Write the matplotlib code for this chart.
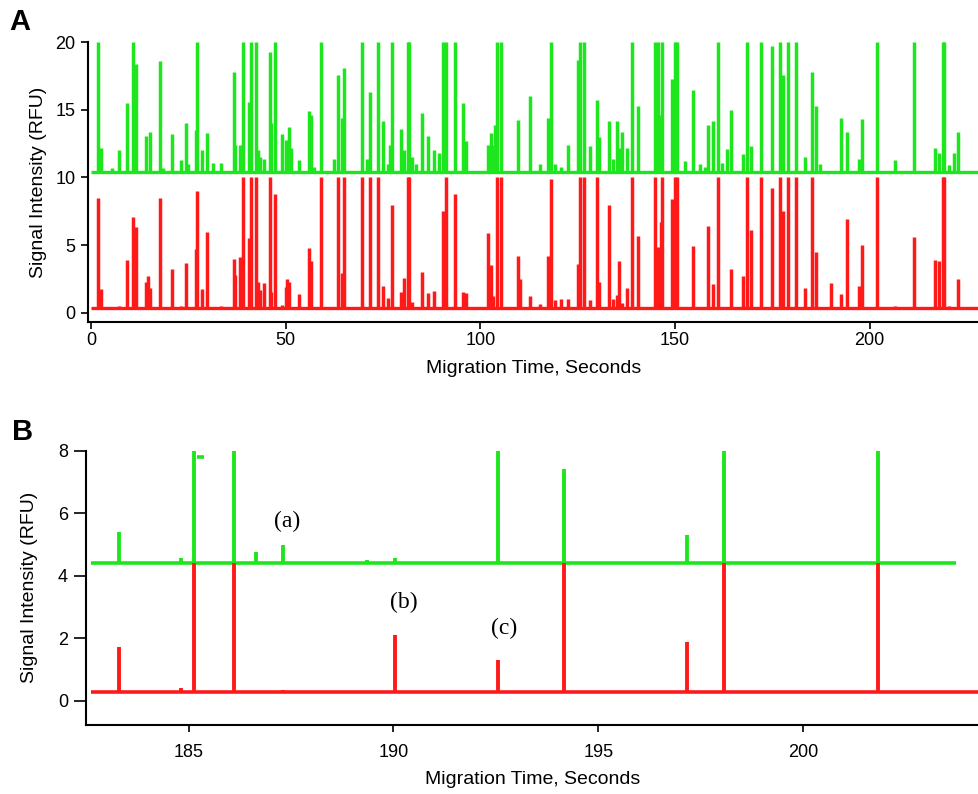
import matplotlib
matplotlib.use("Agg")
import matplotlib.pyplot as plt

plt.rcParams['font.family'] = ['Liberation Sans', 'DejaVu Sans']

GREEN = '#1ee61e'
RED = '#ff1a1a'

# ---- Panel A: full run (peak position in s, peak top in RFU) ----
green_base_a = 10.4
red_base_a = 0.35
trace_end_a = 228.0

green_peaks_x = [1.9, 2.5, 5.3, 7.3, 9.2, 10.9, 11.6, 14.1, 15.2, 17.6, 18.4, 20.7, 23.0, 24.3, 24.8,
                 27.0, 27.3, 28.4, 29.8, 31.3, 33.4, 36.7, 37.1, 38.3, 39.0, 40.6, 41.1, 42.4, 42.8,
                 43.5, 44.4, 45.9, 46.3, 47.2, 49.1, 50.0, 50.9, 51.3, 53.4, 56.0, 56.6, 57.2, 59.1,
                 62.3, 63.4, 64.4, 65.0, 69.6, 70.9, 71.6, 73.8, 75.0, 76.4, 76.7, 77.4, 79.7, 80.5,
                 81.4, 81.8, 82.5, 83.5, 84.9, 86.6, 88.2, 89.4, 90.4, 91.2, 93.6, 95.5, 96.4, 101.9,
                 102.7, 103.3, 103.8, 104.3, 105.3, 109.8, 112.8, 115.4, 117.3, 118.1, 119.1, 120.8,
                 122.6, 125.0, 125.5, 126.7, 128.2, 129.9, 130.4, 133.1, 134.0, 135.1, 135.9, 136.5,
                 137.7, 138.9, 140.6, 144.9, 145.7, 146.2, 146.8, 149.3, 149.9, 150.5, 152.5, 154.7,
                 156.4, 157.6, 158.4, 159.9, 161.1, 162.2, 163.4, 164.3, 167.6, 168.4, 169.6, 172.1,
                 174.8, 177.1, 177.8, 179.0, 181.1, 183.5, 185.2, 186.2, 187.3, 192.6, 194.3, 197.2,
                 198.1, 201.9, 206.6, 211.4, 216.7, 217.9, 218.8, 219.2, 220.4, 221.7, 222.8]
green_peaks_y = [20, 12.2, 10.7, 12.0, 15.5, 20, 18.4, 13.1, 13.4, 18.6, 10.7, 13.2, 11.3, 14.0, 11.0,
                 13.5, 20, 12.0, 13.3, 11.1, 11.1, 17.8, 12.4, 12.4, 20, 15.6, 20, 20, 12.0,
                 11.5, 11.4, 19.3, 14.0, 20, 13.2, 12.8, 13.7, 12.2, 11.3, 14.9, 14.6, 10.8, 20,
                 11.4, 17.6, 14.4, 18.1, 20, 11.4, 16.35, 20, 14.2, 11.0, 12.4, 20, 13.6, 12.0,
                 20, 20, 11.5, 11.0, 14.75, 13.1, 12.0, 11.8, 20, 20, 20, 15.5, 12.7, 12.4,
                 13.3, 12.4, 13.9, 20, 20, 14.25, 16.0, 11.0, 14.4, 20, 11.0, 10.8,
                 12.4, 18.7, 20, 20, 12.3, 15.7, 13.0, 14.2, 11.4, 14.2, 12.2, 13.4,
                 12.2, 20, 15.3, 20, 20, 14.6, 20, 17.3, 20, 20, 11.2, 16.5,
                 11.0, 10.8, 13.9, 14.2, 20, 11.1, 12.1, 15.0, 11.7, 20, 12.3, 20,
                 19.7, 20, 17.6, 20, 20, 11.5, 17.8, 15.3, 11.0, 14.4, 13.4, 11.4,
                 14.3, 20, 11.3, 20, 12.2, 11.8, 20, 20, 10.9, 11.8, 13.4]

red_peaks_x = [1.9, 2.5, 7.3, 9.2, 10.9, 11.5, 14.1, 14.7, 15.2, 17.6, 20.7, 23.0, 24.3, 27.0, 27.3,
               28.4, 29.8, 33.4, 36.7, 37.1, 38.3, 39.0, 40.6, 41.1, 42.4, 42.8, 43.5, 44.4, 45.9,
               46.3, 47.2, 49.1, 50.0, 50.4, 50.9, 53.4, 56.0, 56.6, 59.1, 63.4, 64.4, 65.0, 69.6,
               71.6, 73.8, 75.0, 76.4, 77.4, 79.7, 80.5, 81.4, 81.8, 82.5, 84.9, 86.6, 88.2, 90.4,
               91.2, 93.6, 95.5, 96.4, 101.9, 102.7, 103.3, 104.3, 105.3, 109.8, 110.2, 112.8, 115.4,
               117.3, 118.1, 119.1, 120.8, 122.6, 125.0, 125.5, 126.7, 128.2, 129.9, 130.4, 133.1,
               134.0, 135.1, 135.5, 136.5, 137.7, 138.9, 140.6, 144.9, 145.7, 146.4, 146.8, 149.3,
               149.9, 150.5, 154.7, 158.4, 159.9, 161.1, 164.3, 167.6, 168.4, 169.6, 172.1, 174.8,
               177.1, 177.8, 179.0, 181.1, 183.5, 185.2, 186.2, 190.1, 192.6, 194.3, 197.2, 198.1,
               201.9, 206.6, 211.4, 216.7, 217.9, 218.8, 219.2, 220.4, 222.8]
red_peaks_y = [8.46, 1.75, 0.5, 3.9, 7.05, 6.3, 2.25, 2.74, 1.85, 8.46, 3.2, 0.5, 3.7, 4.7, 9.0,
               1.75, 6.0, 0.5, 4.0, 2.8, 4.1, 10, 5.55, 10, 10, 2.3, 1.7, 2.2, 10,
               1.5, 8.76, 0.6, 1.9, 2.5, 2.3, 1.4, 4.8, 3.8, 10, 10, 2.9, 10, 10,
               10, 10, 2.0, 1.1, 8.0, 1.55, 2.6, 10, 10, 0.8, 3.0, 1.45, 1.6, 7.5,
               10, 8.76, 1.5, 1.45, 5.9, 3.5, 1.2, 10, 10, 4.2, 2.5, 1.25, 0.65,
               4.2, 9.9, 0.95, 1.0, 1.0, 3.6, 10, 10, 0.95, 10, 2.3, 8.0,
               1.0, 1.3, 3.8, 0.7, 1.85, 10, 5.7, 10, 4.85, 6.7, 10, 8.4,
               10, 10, 4.9, 6.4, 2.1, 10, 3.2, 2.7, 10, 6.1, 10, 9.2,
               10, 7.5, 10, 10, 1.8, 10, 4.5, 2.2, 1.4, 6.9, 2.0, 5.0,
               10, 0.5, 5.6, 3.9, 3.8, 10, 10, 0.5, 2.5]

# ---- Panel B: zoom 182.5 - 204.3 s ----
green_base_b = 4.42
red_base_b = 0.27
green_span_b = [182.6, 203.75]
red_span_b = [182.6, 204.3]

green_b_x = [183.3, 184.8, 185.12, 186.1, 186.65, 187.3, 189.35, 190.03, 192.55, 194.17, 197.17, 198.06, 201.83]
green_b_y = [5.41, 4.56, 8.0, 8.0, 4.77, 4.98, 4.5, 4.55, 8.0, 7.40, 5.30, 8.0, 8.0]
green_dash_x = [185.21, 185.37]
green_dash_y = [7.81, 7.81]

red_b_x = [183.3, 184.8, 185.12, 186.1, 187.3, 190.03, 192.55, 194.17, 197.17, 198.06, 201.83]
red_b_y = [1.73, 0.4, 4.4, 4.4, 0.33, 2.10, 1.30, 4.4, 1.89, 4.4, 4.4]

annotations = ['(a)', '(b)', '(c)']
annot_x = [187.41, 190.24, 192.7]
annot_y = [5.72, 3.13, 2.32]

fig = plt.figure(figsize=(9.79, 7.94), dpi=100)
axA = fig.add_axes([88 / 979, 1 - 322 / 794, 891 / 979, 280 / 794])
axB = fig.add_axes([86 / 979, 1 - 725 / 794, 893 / 979, 274.3 / 794])


def style(ax, ylen, xpad, xlabelpad, ylabelpad):
    for s in ['top', 'right']:
        ax.spines[s].set_visible(False)
    for s in ['left', 'bottom']:
        ax.spines[s].set_linewidth(1.5)
    ax.tick_params(axis='y', direction='out', length=ylen, width=1.2, labelsize=13, pad=4)
    ax.tick_params(axis='x', direction='out', length=5, width=1.2, labelsize=13, pad=xpad)
    ax.set_xlabel('Migration Time, Seconds', fontsize=14, labelpad=xlabelpad)
    ax.set_ylabel('Signal Intensity (RFU)', fontsize=14, labelpad=ylabelpad)


# panel A
axA.plot([0, trace_end_a], [green_base_a, green_base_a], color=GREEN, lw=2.4, solid_capstyle='butt')
axA.plot([0, trace_end_a], [red_base_a, red_base_a], color=RED, lw=2.4, solid_capstyle='butt')
axA.vlines(green_peaks_x, green_base_a, green_peaks_y, color=GREEN, lw=2.5)
axA.vlines(red_peaks_x, red_base_a, red_peaks_y, color=RED, lw=2.5)
axA.set_xlim(-0.77, 228.1)
axA.set_ylim(-0.69, 20.02)
axA.set_xticks([0, 50, 100, 150, 200])
axA.set_yticks([0, 5, 10, 15, 20])
style(axA, 5, 2, 8, 6)

# panel B
axB.plot(green_span_b, [green_base_b, green_base_b], color=GREEN, lw=2.6, solid_capstyle='butt')
axB.plot(red_span_b, [red_base_b, red_base_b], color=RED, lw=2.6, solid_capstyle='butt')
axB.vlines(green_b_x, green_base_b, green_b_y, color=GREEN, lw=2.8)
axB.vlines(red_b_x, red_base_b, red_b_y, color=RED, lw=2.8)
axB.plot(green_dash_x, green_dash_y, color=GREEN, lw=2.6, solid_capstyle='butt')
for t, x, y in zip(annotations, annot_x, annot_y):
    axB.text(x, y, t, family='Liberation Serif', fontsize=17, ha='center', va='center')
axB.set_xlim(182.49, 204.3)
axB.set_ylim(-0.78, 8.0)
axB.set_xticks([185, 190, 195, 200])
axB.set_yticks([0, 2, 4, 6, 8])
style(axB, 9, 9, 7, 14)

fig.text(20 / 979, 1 - 22 / 794, 'A', fontsize=21, fontweight='bold', ha='center', va='center')
fig.text(23 / 979, 1 - 432 / 794, 'B', fontsize=21, fontweight='bold', ha='center', va='center')

fig.savefig('out.png', dpi=100)
